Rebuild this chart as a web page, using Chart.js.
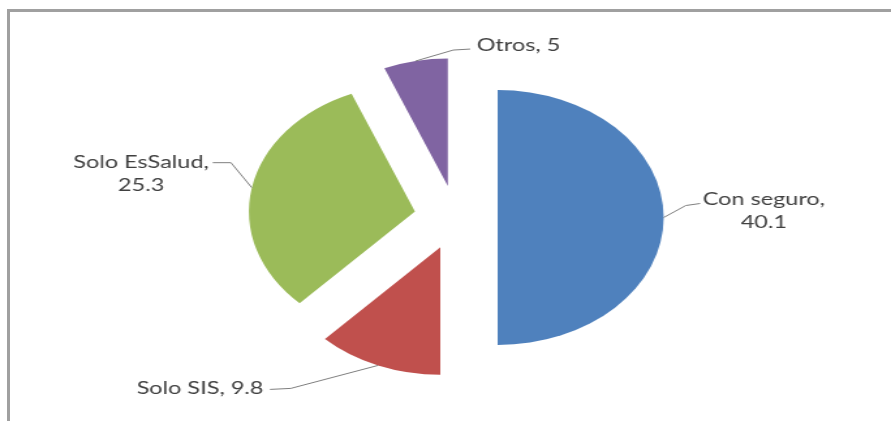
<!DOCTYPE html>
<html>
<head>
<meta charset="utf-8">
<script src="https://cdn.jsdelivr.net/npm/chart.js@4.4.1/dist/chart.umd.min.js"></script>
<style>
  html, body { margin: 0; padding: 0; background: #fff; overflow: hidden; }
  #frame { position: absolute; left: 7px; top: 9px; width: 900px; height: 420px;
           border-top: 3px solid #a0a0a0; border-left: 3px solid #a0a0a0; }
  /* the original picture is stretched sideways, so the whole chart is too */
  #wrap { position: absolute; left: 0; top: 0; width: 684px; height: 421px;
          transform: scaleX(1.3026); transform-origin: 0 0; }
</style>
</head>
<body>
<div id="frame"></div>
<div id="wrap"><canvas id="chart"></canvas></div>
<script>
const categories = ["Con seguro", "Solo SIS", "Solo EsSalud", "Otros"];
const values = [40.1, 9.8, 25.3, 5];
const colors = ["#4F81BD", "#C0504D", "#9BBB59", "#8064A2"];

// where each data label sits, relative to the outer edge of its slice
const labelLayout = [
  {elbow: [17, -12], end: [28, -14], at: [30, -18.5], side: "left", wrap: true},
  {elbow: [-67, 23], end: [-83, 24], at: [-88, 23], side: "right", wrap: false},
  {elbow: [-16, -25], end: [-30, -25], at: [-33, -25.7], side: "right", wrap: true},
  {elbow: [29, -11], end: [42, -12], at: [47, -16], side: "left", wrap: false},
];

const EXPLODE = 32;

// draw each slice pushed out along its middle angle (pie explosion)
const explodePlugin = {
  id: "explode",
  beforeDatasetDraw(chart, args) {
    const ctx = chart.ctx;
    args.meta.data.forEach(arc => {
      const mid = (arc.startAngle + arc.endAngle) / 2;
      ctx.save();
      ctx.translate(Math.cos(mid) * EXPLODE, Math.sin(mid) * EXPLODE);
      arc.draw(ctx, chart.chartArea);
      ctx.restore();
    });
    return false;
  }
};

const labelPlugin = {
  id: "sliceLabels",
  afterDraw(chart) {
    const ctx = chart.ctx;
    const meta = chart.getDatasetMeta(0);
    ctx.save();
    ctx.font = "18px Lato";
    ctx.textBaseline = "middle";
    meta.data.forEach((arc, i) => {
      const mid = (arc.startAngle + arc.endAngle) / 2;
      const cx = arc.x + Math.cos(mid) * EXPLODE;
      const cy = arc.y + Math.sin(mid) * EXPLODE;
      const ax = cx + Math.cos(mid) * arc.outerRadius;
      const ay = cy + Math.sin(mid) * arc.outerRadius;
      const lay = labelLayout[i];

      ctx.strokeStyle = "#7f7f7f";
      ctx.lineWidth = 1;
      ctx.beginPath();
      ctx.moveTo(ax, ay);
      ctx.lineTo(ax + lay.elbow[0], ay + lay.elbow[1]);
      ctx.lineTo(ax + lay.end[0], ay + lay.end[1]);
      ctx.stroke();

      const lines = lay.wrap
        ? [categories[i] + ",", String(values[i])]
        : [categories[i] + ", " + values[i]];
      const blockW = Math.max(...lines.map(l => ctx.measureText(l).width));
      const left = lay.side === "left" ? ax + lay.at[0] : ax + lay.at[0] - blockW;
      ctx.fillStyle = "#404040";
      ctx.textAlign = "center";
      lines.forEach((l, k) => {
        ctx.fillText(l, left + blockW / 2, ay + lay.at[1] + k * 23);
      });
    });
    ctx.restore();
  }
};

new Chart(document.getElementById("chart"), {
  type: "pie",
  data: {
    labels: categories,
    datasets: [{
      data: values,
      backgroundColor: colors,
      borderWidth: 0
    }]
  },
  options: {
    responsive: true,
    maintainAspectRatio: false,
    animation: false,
    events: [],
    radius: 127.5,
    layout: {padding: {left: 26, right: 10, top: 24, bottom: 10}},
    plugins: {
      legend: {display: false},
      tooltip: {enabled: false}
    }
  },
  plugins: [explodePlugin, labelPlugin]
});
</script>
</body>
</html>
